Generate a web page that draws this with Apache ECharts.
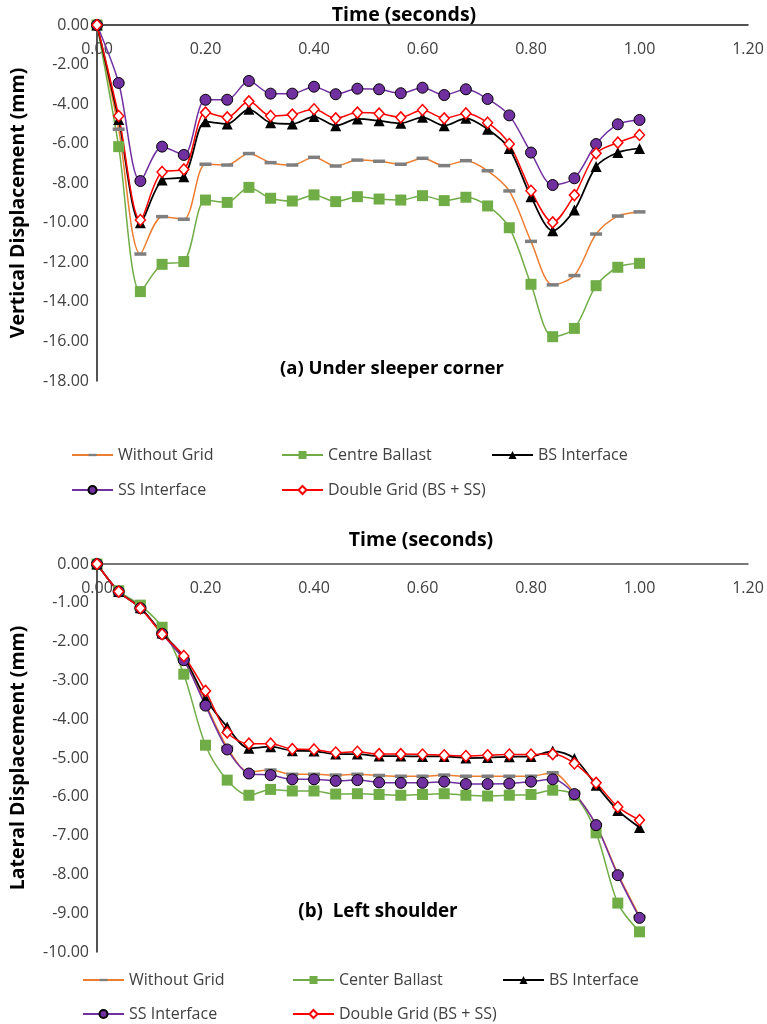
<!DOCTYPE html>
<html><head><meta charset="utf-8">
<script src="https://cdn.jsdelivr.net/npm/echarts@6/dist/echarts.min.js"></script>
<style>html,body{margin:0;padding:0;background:#fff}#c{width:767px;height:1024px}</style>
</head><body><div id="c"></div>
<script>
const times = [0.00,0.04,0.08,0.12,0.16,0.20,0.24,0.28,0.32,0.36,0.40,0.44,0.48,0.52,0.56,0.60,0.64,0.68,0.72,0.76,0.80,0.84,0.88,0.92,0.96,1.00];
const xTicks = [0.00,0.20,0.40,0.60,0.80,1.00,1.20];

// (a) Under sleeper corner - vertical displacement (mm)
const withoutGridA   = [0,-5.27,-11.58,-9.69,-9.82,-7.04,-7.08,-6.50,-6.96,-7.08,-6.69,-7.13,-6.83,-6.89,-7.04,-6.74,-7.11,-6.86,-7.37,-8.39,-10.94,-13.14,-12.67,-10.57,-9.66,-9.45];
const centreBallastA = [0,-6.15,-13.48,-12.10,-11.96,-8.85,-8.97,-8.21,-8.76,-8.90,-8.59,-8.93,-8.68,-8.80,-8.85,-8.63,-8.88,-8.71,-9.15,-10.25,-13.11,-15.76,-15.34,-13.18,-12.25,-12.05];
const bsInterfaceA   = [0,-4.78,-10.00,-7.84,-7.67,-4.89,-5.00,-4.26,-4.94,-5.00,-4.63,-5.09,-4.75,-4.84,-4.97,-4.67,-5.09,-4.72,-5.27,-6.24,-8.68,-10.40,-9.35,-7.16,-6.45,-6.24];
const ssInterfaceA   = [0,-2.93,-7.89,-6.15,-6.57,-3.78,-3.78,-2.83,-3.47,-3.47,-3.12,-3.50,-3.22,-3.25,-3.45,-3.17,-3.54,-3.25,-3.74,-4.57,-6.45,-8.09,-7.75,-6.02,-5.02,-4.80];
const doubleGridA    = [0,-4.60,-9.86,-7.43,-7.30,-4.43,-4.67,-3.86,-4.60,-4.53,-4.26,-4.72,-4.43,-4.48,-4.67,-4.30,-4.72,-4.47,-4.94,-6.02,-8.38,-9.98,-8.60,-6.49,-5.95,-5.56];

// (b) Left shoulder - lateral displacement (mm)
const withoutGridB   = [0,-0.71,-1.12,-1.79,-2.45,-3.60,-4.72,-5.36,-5.31,-5.42,-5.42,-5.44,-5.42,-5.45,-5.47,-5.47,-5.44,-5.47,-5.47,-5.47,-5.47,-5.38,-5.90,-6.72,-7.98,-9.08];
const centerBallastB = [0,-0.69,-1.06,-1.63,-2.84,-4.67,-5.57,-5.96,-5.81,-5.85,-5.85,-5.93,-5.92,-5.94,-5.96,-5.94,-5.92,-5.96,-5.98,-5.96,-5.94,-5.83,-5.96,-6.93,-8.74,-9.48];
const bsInterfaceB   = [0,-0.71,-1.13,-1.78,-2.40,-3.46,-4.20,-4.75,-4.71,-4.81,-4.82,-4.90,-4.90,-4.95,-4.95,-4.96,-4.96,-5.00,-4.99,-4.97,-4.96,-4.82,-5.01,-5.70,-6.35,-6.79];
const ssInterfaceB   = [0,-0.71,-1.14,-1.80,-2.48,-3.65,-4.78,-5.40,-5.44,-5.55,-5.55,-5.59,-5.57,-5.63,-5.64,-5.64,-5.61,-5.67,-5.67,-5.66,-5.61,-5.55,-5.93,-6.73,-8.02,-9.12];
const doubleGridB    = [0,-0.71,-1.14,-1.81,-2.37,-3.27,-4.34,-4.63,-4.63,-4.77,-4.78,-4.86,-4.84,-4.90,-4.90,-4.91,-4.93,-4.95,-4.93,-4.91,-4.91,-4.90,-5.14,-5.64,-6.26,-6.60];

const FONT = "'Open Sans', 'Noto Sans', sans-serif";
const dashPath = 'path://M0,0 M0,4.25 L12,4.25 L12,7.75 L0,7.75 Z M12,12';

const styles = {
  'Without Grid':  {color:'#ED7D31', symbol:dashPath, symbolSize:12, item:{color:'#7F7F7F'}, lw:1.5},
  'Centre Ballast':{color:'#70AD47', symbol:'rect', symbolSize:11, item:{color:'#70AD47'}, lw:1.5},
  'Center Ballast':{color:'#70AD47', symbol:'rect', symbolSize:11, item:{color:'#70AD47'}, lw:1.5},
  'BS Interface':  {color:'#000000', symbol:'triangle', symbolSize:11, item:{color:'#000000'}, lw:1.75},
  'SS Interface':  {color:'#7030A0', symbol:'circle', symbolSize:11, item:{color:'#7030A0', borderColor:'#000', borderWidth:1}, lw:1.5},
  'Double Grid (BS + SS)': {color:'#FF0000', symbol:'diamond', symbolSize:[10,11], item:{color:'#FFFFFF', borderColor:'#FF0000', borderWidth:1.5}, lw:1.5}
};

function mk(name, vals, idx) {
  const s = styles[name];
  return {
    name, type:'line', xAxisIndex:idx, yAxisIndex:idx,
    data: times.map((t,i)=>[t, vals[i]]),
    smooth: 0.3,
    symbol: s.symbol, symbolSize: s.symbolSize, showAllSymbol:true,
    lineStyle:{color:s.color, width:s.lw},
    itemStyle: Object.assign({}, s.item),
    emphasis:{disabled:true},
    animation:false
  };
}

const series = [
  mk('Without Grid', withoutGridA, 0),
  mk('Centre Ballast', centreBallastA, 0),
  mk('BS Interface', bsInterfaceA, 0),
  mk('SS Interface', ssInterfaceA, 0),
  mk('Double Grid (BS + SS)', doubleGridA, 0),
  mk('Without Grid', withoutGridB, 1),
  mk('Center Ballast', centerBallastB, 1),
  mk('BS Interface', bsInterfaceB, 1),
  mk('SS Interface', ssInterfaceB, 1),
  mk('Double Grid (BS + SS)', doubleGridB, 1)
];

function xAx(idx, lineColor) {
  return {
    type:'value', gridIndex:idx, position:'top', min:xTicks[0], max:xTicks[xTicks.length-1], interval:0.2,
    axisLine:{show:true, onZero:false, lineStyle:{color:lineColor, width:1.5}},
    axisTick:{show:false}, splitLine:{show:false},
    axisLabel:{inside:true, margin:16, color:'#404040', fontSize:16, fontFamily:FONT,
      showMinLabel:true, showMaxLabel:true, formatter:v=>v.toFixed(2)}
  };
}
function yAx(idx, min, interval, name, gap) {
  return {
    type:'value', gridIndex:idx, min:min, max:0, interval:interval,
    axisLine:{show:true, onZero:false, lineStyle:{color:'#1a1a1a', width:1.5}},
    axisTick:{show:false}, splitLine:{show:false},
    axisLabel:{margin:8, color:'#404040', fontSize:16, fontFamily:FONT, formatter:v=>v.toFixed(2)},
    name:name, nameLocation:'middle', nameGap:gap, nameRotate:90,
    nameTextStyle:{fontSize:19.5, fontWeight:'bold', color:'#000', fontFamily:FONT}
  };
}

function leg(name, left, cy) {
  return {
    data:[name], left:left, top:cy-10, padding:0, itemWidth:41, itemHeight:10, itemGap:0,
    selectedMode:false,
    textStyle:{fontSize:16, color:'#404040', fontFamily:FONT, lineHeight:20, padding:[0,0,0,0]}
  };
}

const legends = [
  leg('Without Grid', 71, 455), leg('Centre Ballast', 281, 455), leg('BS Interface', 491, 455),
  leg('SS Interface', 71, 490), leg('Double Grid (BS + SS)', 281, 490),
  leg('Without Grid', 82, 980), leg('Center Ballast', 292, 980), leg('BS Interface', 502, 980),
  leg('SS Interface', 82, 1014), leg('Double Grid (BS + SS)', 292, 1014)
];

function txt(s, x, y, size) {
  return {type:'text', x:x, y:y, style:{text:s, fontSize:size, fontWeight:'bold', fill:'#000', fontFamily:FONT, textAlign:'center', textVerticalAlign:'middle'}};
}

const chart = echarts.init(document.getElementById('c'), null, {renderer:'canvas'});
chart.setOption({
  backgroundColor:'#fff',
  animation:false,
  grid:[
    {left:96, top:25, width:652, height:356, containLabel:false},
    {left:96, top:564, width:652, height:388, containLabel:false}
  ],
  xAxis:[xAx(0,'#1a1a1a'), xAx(1,'#4d4d4d')],
  yAxis:[yAx(0,-18,2,'Vertical Displacement (mm)',69), yAx(1,-10,1,'Lateral Displacement (mm)',69)],
  legend:legends,
  graphic:[
    txt('Time (seconds)', 404, 15, 19.5),
    txt('Time (seconds)', 421, 540, 19.5),
    txt('(a) Under sleeper corner', 392, 369, 18.5),
    txt('(b)  Left shoulder', 378, 912, 18.8)
  ],
  series:series
});
</script>
</body></html>
